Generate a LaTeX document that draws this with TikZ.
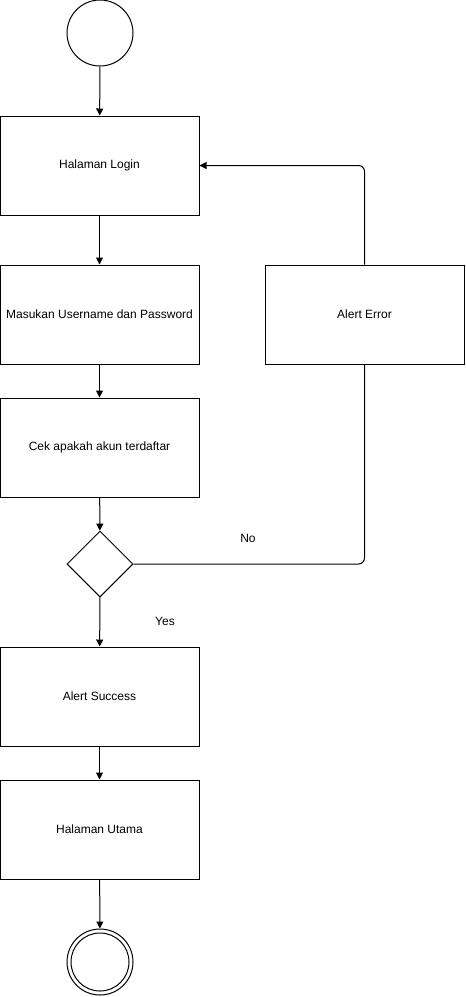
\documentclass[tikz,border=0pt]{standalone}
\usepackage{fontspec}
\setmainfont{Liberation Sans}
\usetikzlibrary{arrows.meta}
\usetikzlibrary{shapes.geometric}
\tikzset{box/.style = {draw, rectangle, minimum width=199pt, minimum height=99pt,
                       inner sep=0, font=\fontsize{12}{14}\selectfont}}
\tikzset{lbl/.style = {font=\fontsize{12}{14}\selectfont}}
\tikzset{flow/.style = {-{Triangle[length=7pt, width=7pt]}}}
\tikzset{loop/.style = {rounded corners=6pt}}

\begin{document}
\begin{tikzpicture}[x=1pt, y=-1pt, line width=1pt]
      \useasboundingbox (0,0) rectangle (466,997);

      \node [draw, circle, minimum size=66pt, inner sep=0] (start) at (100,33) {};
      \node [box] (login) at (99.5,165.5) {Halaman Login};
      \node [box] (input) at (99.5,314.5) {Masukan Username dan Password};
      \node [box] (cek) at (99.5,447.5) {Cek apakah akun terdaftar};
      \node [draw, diamond, aspect=1, minimum width=66pt, minimum height=66pt, inner sep=0] (cond) at (100,564) {};
      \node [box] (success) at (99.5,696.5) {Alert Success};
      \node [box] (home) at (99.5,829.5) {Halaman Utama};
      \node [box] (error) at (364.5,314.5) {Alert Error};
      \node [draw, circle, minimum size=66pt, inner sep=0] (stop) at (100,962) {};
      \draw (stop) circle [radius=29pt];

      \node [lbl] (no) at (248,538) {No};
      \node [lbl] (yes) at (165,621) {Yes};

      \draw [flow] (start) -- (login);
      \draw [flow] (login) -- (input);
      \draw [flow] (input) -- (cek);
      \draw [flow] (cek) -- (cond);
      \draw [flow] (cond) -- (success);
      \draw [flow] (success) -- (home);
      \draw [flow] (home) -- (stop);
      \draw [loop] (cond.east) -| (error.south);
      \draw [loop, flow] (error.north) |- (login.east);
\end{tikzpicture}
\end{document}
